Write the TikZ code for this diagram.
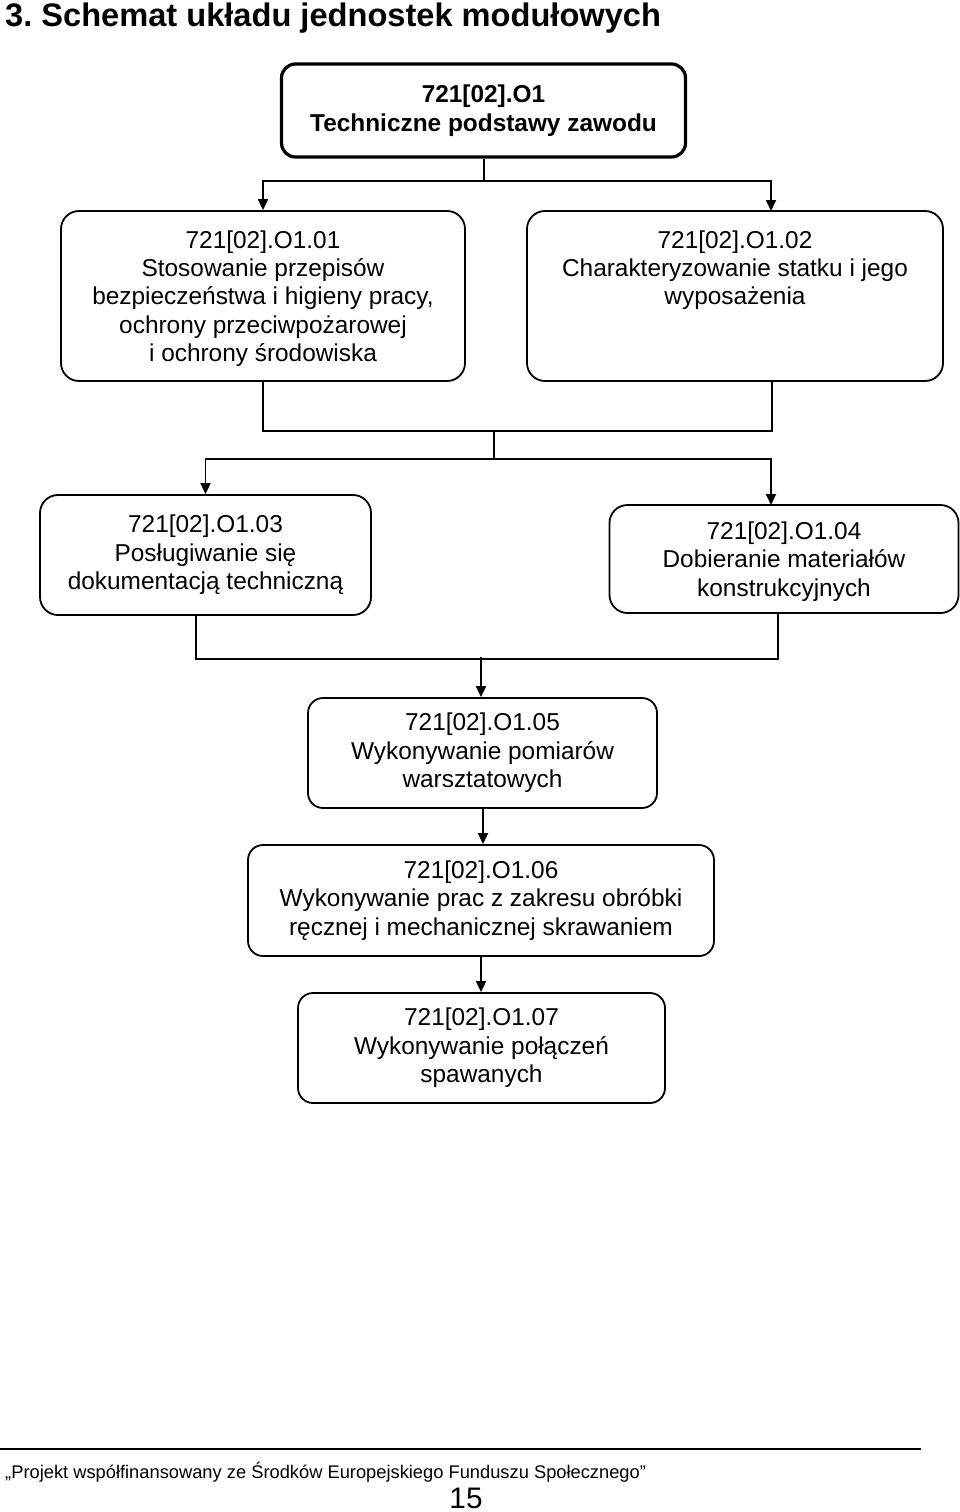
\documentclass[tikz,border=0pt]{standalone}
\usepackage{fontspec}
\setmainfont{Liberation Sans}
\usetikzlibrary{arrows.meta}
\frenchspacing
\begin{document}
\begin{tikzpicture}[x=1pt,y=-1pt,
  box/.style={draw, line width=1.8pt, rounded corners=18pt, align=center, inner sep=0pt,
    font=\fontsize{24.4}{28.4}\selectfont},
  topbox/.style={box, line width=3.2pt, rounded corners=14pt,
    font=\bfseries\fontsize{24.4}{29}\selectfont},
  lower/.style={text depth=0pt},
  conn/.style={line width=1.8pt},
  arr/.style={conn, -{Triangle[length=11pt,width=10pt]}}]
\useasboundingbox (0,0) rectangle (960,1512);

\node[anchor=base west, inner sep=0pt, font=\bfseries\fontsize{32.6}{36}\selectfont] (title) at (5,27)
  {3. Schemat układu jednostek modułowych};

\node[topbox, minimum width=404pt, minimum height=93pt] (b0) at (483.5,110.5)
  {721[02].O1\\Techniczne podstawy zawodu};
\node[box, lower, minimum width=404pt, minimum height=170pt] (b1) at (263,296)
  {721[02].O1.01\\Stosowanie przepisów\\bezpieczeństwa i higieny pracy,\\ochrony przeciwpożarowej\\i ochrony środowiska};
\node[box, lower, minimum width=416pt, minimum height=170pt] (b2) at (735,296)
  {721[02].O1.02\\Charakteryzowanie statku i jego\\wyposażenia\\\phantom{Xy}\\\phantom{Xy}};
\node[box, minimum width=331pt, minimum height=120pt] (b3) at (205.5,555)
  {721[02].O1.03\\Posługiwanie się\\dokumentacją techniczną};
\node[box, lower, minimum width=349pt, minimum height=108pt] (b4) at (784,559)
  {721[02].O1.04\\Dobieranie materiałów\\konstrukcyjnych};
\node[box, rounded corners=15pt, minimum width=349pt, minimum height=110pt] (b5) at (482.5,753)
  {721[02].O1.05\\Wykonywanie pomiarów\\warsztatowych};
\node[box, rounded corners=15pt, minimum width=466pt, minimum height=111pt] (b6) at (481,900.5)
  {721[02].O1.06\\Wykonywanie prac z zakresu obróbki\\ręcznej i mechanicznej skrawaniem};
\node[box, rounded corners=15pt, minimum width=367pt, minimum height=110pt] (b7) at (481.5,1048)
  {721[02].O1.07\\Wykonywanie połączeń\\spawanych};

% connectors
\coordinate (j1) at (484,181);
\coordinate (a2) at (771,211);
\draw[conn] (b0.south -| j1) -- (j1);
\draw[arr] (j1) -| (b1.north);
\draw[arr] (j1) -| (a2);

\coordinate (k2) at (772,381);
\draw[conn] (b1.south) -- ++(0,49) -| (k2);
\coordinate (j3) at (494,430);
\coordinate (j4) at (494,459);
\draw[conn] (j3) -- (j4);
\draw[arr] (j4) -| (b3.north);
\coordinate (a4) at (771,505);
\draw[arr] (j4) -| (a4);

\coordinate (k3) at (196,614);
\coordinate (k4) at (778,613);
\draw[conn] (k3) -- ++(0,45) -| (k4);
\coordinate (j5) at (481,657);
\draw[arr] (j5) -- (j5 |- b5.north);
\coordinate (m5) at (483,0);
\draw[arr] (b5.south -| m5) -- (b6.north -| m5);
\draw[arr] (b6.south) -- (b6.south |- b7.north);

% footer
\coordinate (f1) at (0,1449);
\coordinate (f2) at (921,1449);
\draw[line width=2pt] (f1) -- (f2);
\node[anchor=base west, inner sep=0pt, font=\fontsize{18.3}{22}\selectfont] (foot) at (5,1478)
  {„Projekt współfinansowany ze Środków Europejskiego Funduszu Społecznego”};
\node[anchor=base, inner sep=0pt, font=\fontsize{29.7}{34}\selectfont] (page) at (466,1508) {15};
\end{tikzpicture}
\end{document}
